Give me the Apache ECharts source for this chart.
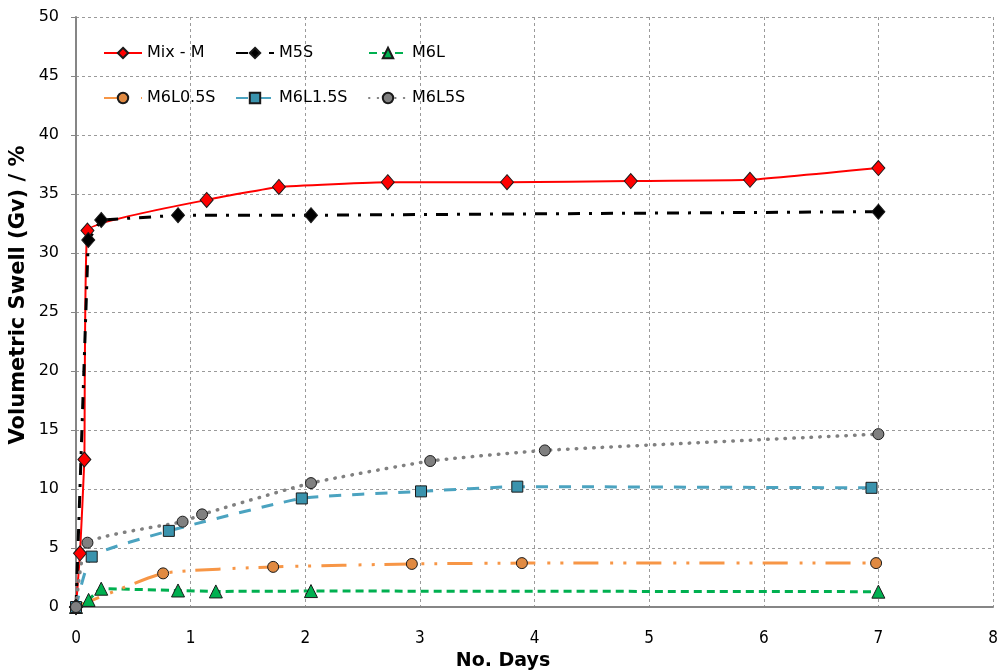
<!DOCTYPE html>
<html><head><meta charset="utf-8">
<script src="https://cdn.jsdelivr.net/npm/echarts@6/dist/echarts.min.js"></script>
<style>html,body{margin:0;padding:0;background:#fff}#c{width:997px;height:672px}</style>
</head><body><div id="c"></div>
<script>
// Data
const seriesNames = ['Mix - M', 'M5S', 'M6L', 'M6L0.5S', 'M6L1.5S', 'M6L5S'];
const mixM_days = [0, 0.035, 0.073, 0.1, 1.14, 1.77, 2.72, 3.76, 4.84, 5.88, 7.0];
const mixM_swell = [0, 4.55, 12.5, 31.9, 34.5, 35.6, 36.0, 36.0, 36.1, 36.2, 37.2];
const m5s_days = [0, 0.107, 0.22, 0.89, 2.05, 7.0];
const m5s_swell = [0, 31.1, 32.8, 33.2, 33.2, 33.5];
const m6l_days = [0, 0.11, 0.22, 0.89, 1.22, 2.05, 7.0];
const m6l_swell = [0, 0.6, 1.55, 1.4, 1.32, 1.35, 1.3];
const m6l05s_days = [0, 0.76, 1.72, 2.93, 3.89, 6.98];
const m6l05s_swell = [0, 2.85, 3.4, 3.65, 3.72, 3.72];
const m6l15s_days = [0, 0.137, 0.81, 1.97, 3.01, 3.85, 6.94];
const m6l15s_swell = [0, 4.27, 6.45, 9.2, 9.8, 10.2, 10.1];
const m6l5s_days = [0, 0.1, 0.93, 1.1, 2.05, 3.09, 4.09, 7.0];
const m6l5s_swell = [0, 5.45, 7.23, 7.85, 10.5, 12.37, 13.27, 14.65];
const xTicks = [0, 1, 2, 3, 4, 5, 6, 7, 8];
const yTicks = [0, 5, 10, 15, 20, 25, 30, 35, 40, 45, 50];
const xTitle = 'No. Days';
const yTitle = 'Volumetric Swell (Gv) / %';

function pairs(xs, ys) { return xs.map((x, i) => [x, ys[i]]); }

const styles = [
  {line: '#FF0000', fill: '#FF0000', sym: 'diamond', size: [13, 15], dash: 'solid', w: 2, smooth: 0.1},
  {line: '#000000', fill: '#000000', sym: 'diamond', size: [13, 15], dash: [12, 9, 3, 9], w: 3, smooth: 0},
  {line: '#00B050', fill: '#00B050', sym: 'triangle', size: 13, dash: [8, 5], w: 3, smooth: 0.15},
  {line: '#F79646', fill: '#E08A42', sym: 'circle', size: 11, dash: [25, 12, 3, 10, 3, 10], w: 3, smooth: 0.15},
  {line: '#4BA3C0', fill: '#3A93AD', sym: 'rect', size: 11, dash: [12, 11], w: 3, smooth: 0.15},
  {line: '#808080', fill: '#808080', sym: 'circle', size: 11, dash: [0.5, 8.2], w: 3.5, smooth: 0.15}
];
const datasets = [
  pairs(mixM_days, mixM_swell), pairs(m5s_days, m5s_swell), pairs(m6l_days, m6l_swell),
  pairs(m6l05s_days, m6l05s_swell), pairs(m6l15s_days, m6l15s_swell), pairs(m6l5s_days, m6l5s_swell)
];

const series = seriesNames.map((n, i) => {
  const s = styles[i];
  return {
    name: n, type: 'line', data: datasets[i],
    symbol: s.sym, symbolSize: s.size, showAllSymbol: true,
    smooth: s.smooth,
    lineStyle: {color: s.line, width: s.w, type: s.dash, cap: i === 5 ? 'round' : 'butt'},
    itemStyle: {color: s.fill, borderColor: '#1a1a1a', borderWidth: 1},
    emphasis: {disabled: true}, animation: false
  };
});

const legendPos = [[103, 45], [235, 45], [368, 45], [103, 90], [235, 90], [368, 90]];
const legends = seriesNames.map((n, i) => ({
  data: [n], left: legendPos[i][0], top: legendPos[i][1], orient: 'horizontal',
  itemWidth: 38, itemHeight: 13, padding: 0, itemGap: 0,
  textStyle: {fontFamily: 'DejaVu Sans', fontSize: 16, color: '#000', padding: [0, 0, 0, 0]},
  selectedMode: false
}));

const chart = echarts.init(document.getElementById('c'), null, {renderer: 'canvas'});
chart.setOption({
  backgroundColor: '#fff',
  animation: false,
  graphic: [
    {type: 'text', x: 503, y: 661, style: {text: xTitle, align: 'center', verticalAlign: 'middle',
      font: 'bold 19px "DejaVu Sans"', fill: '#000'}},
    {type: 'text', x: 19, y: 295, rotation: Math.PI / 2, style: {text: yTitle, align: 'center', verticalAlign: 'middle',
      font: 'bold 21px "DejaVu Sans"', fill: '#000'}}
  ],
  grid: {left: 76, right: 4, top: 17, bottom: 65, containLabel: false, outerBoundsMode: 'none'},
  legend: legends,
  xAxis: {
    type: 'value', min: xTicks[0], max: xTicks[xTicks.length - 1], interval: 1,
    axisLine: {lineStyle: {color: '#868686', width: 2}},
    axisTick: {show: false},
    axisLabel: {fontFamily: "'Liberation Sans Narrow', 'DejaVu Sans Condensed', sans-serif", fontSize: 17, color: '#000', margin: 23},
    splitLine: {show: true, lineStyle: {color: '#9a9a9a', type: [3, 3], width: 1}}
  },
  yAxis: {
    type: 'value', min: yTicks[0], max: yTicks[yTicks.length - 1], interval: 5,
    axisLine: {show: true, lineStyle: {color: '#868686', width: 2}},
    axisTick: {show: true, inside: false, length: 5, lineStyle: {color: '#868686', width: 1}},
    axisLabel: {fontFamily: 'DejaVu Sans', fontSize: 16, color: '#000', margin: 17},
    splitLine: {show: true, lineStyle: {color: '#9a9a9a', type: [3, 3], width: 1}}
  },
  series: series
});
</script></body></html>
